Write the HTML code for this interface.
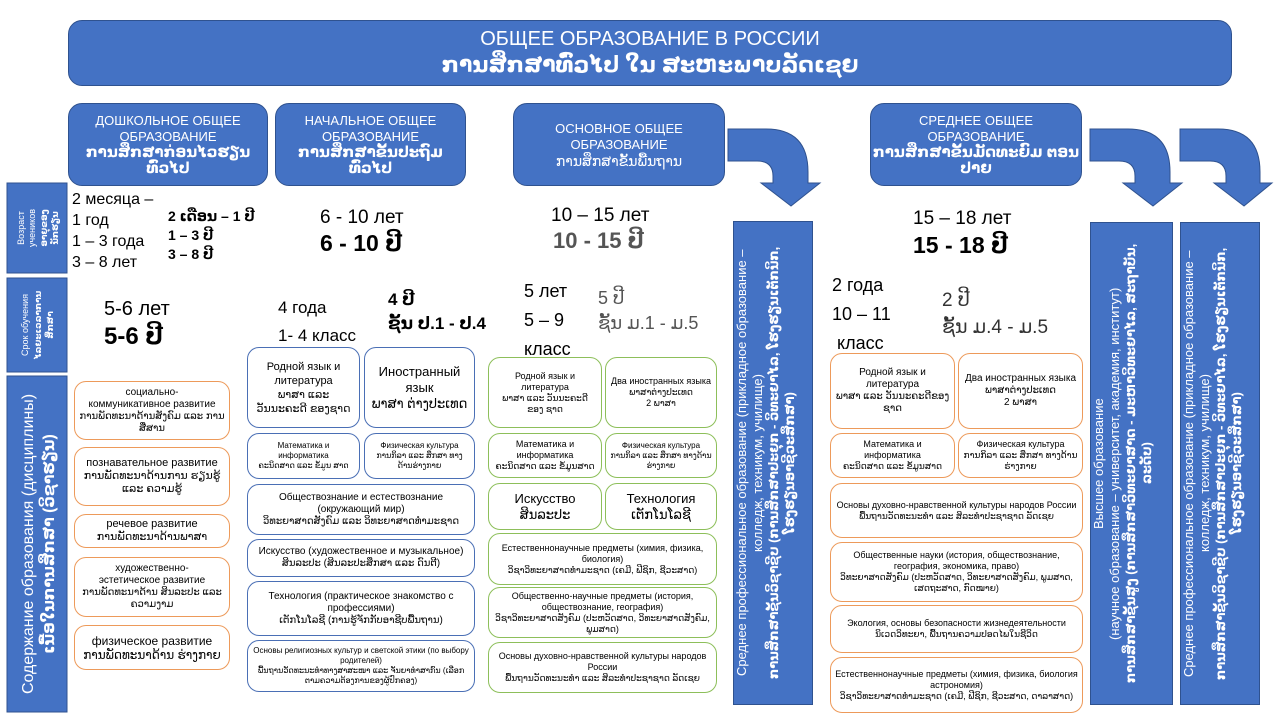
<!DOCTYPE html>
<html><head><meta charset="utf-8"><style>
*{margin:0;padding:0;box-sizing:border-box}
body{width:1280px;height:720px;background:#fff;position:relative;overflow:hidden;font-family:"Liberation Sans","DejaVu Sans",sans-serif;color:#000}
.a{position:absolute}
.blue{background:#4472C4;border:1.5px solid #2F528F;color:#fff}
.hd{border-radius:14px;display:flex;flex-direction:column;align-items:center;justify-content:center;text-align:center;font-size:13px;line-height:16px}
.hd b{font-size:15px}
.bx{position:absolute;border-radius:12px;background:#fff;display:flex;flex-direction:column;align-items:center;justify-content:center;text-align:center;font-size:10px;line-height:12px;padding:2px 4px}
.o{border:1px solid #ED9A5A}
.b{border:1px solid #4A6FB5}
.g{border:1px solid #8DBF5A}
.t{position:absolute;white-space:nowrap}
.vb{position:absolute;background:#4472C4;border:1px solid #2F528F;color:#fff;display:flex;align-items:center;justify-content:center;text-align:center}
.vb div{writing-mode:vertical-rl;transform:rotate(180deg);font-size:13px;line-height:16px;width:100%;padding:6px 0}
</style></head><body>

<div class="a blue hd" style="left:68px;top:20px;width:1164px;height:66px;border-radius:14px">
<div style="font-size:20px;line-height:24px">ОБЩЕЕ ОБРАЗОВАНИЕ В РОССИИ</div>
<div style="font-size:22px;line-height:28px;font-weight:bold">ການສຶກສາທົ່ວໄປ ໃນ ສະຫະພາບລັດເຊຍ</div></div>

<div class="a blue hd" style="left:68px;top:103px;width:200px;height:83px">ДОШКОЛЬНОЕ ОБЩЕЕ<br>ОБРАЗОВАНИЕ<b>ການສຶກສາກ່ອນໄວຮຽນ ທົ່ວໄປ</b></div>
<div class="a blue hd" style="left:275px;top:103px;width:191px;height:83px">НАЧАЛЬНОЕ ОБЩЕЕ<br>ОБРАЗОВАНИЕ<b>ການສຶກສາຂັ້ນປະຖົມ ທົ່ວໄປ</b></div>
<div class="a blue hd" style="left:513px;top:103px;width:212px;height:83px">ОСНОВНОЕ ОБЩЕЕ<br>ОБРАЗОВАНИЕ<span style="font-size:14px">ການສຶກສາຂັ້ນພື້ນຖານ</span></div>
<div class="a blue hd" style="left:870px;top:103px;width:212px;height:83px">СРЕДНЕЕ ОБЩЕЕ<br>ОБРАЗОВАНИЕ<b>ການສຶກສາຂັ້ນມັດທະຍົມ ຕອນປາຍ</b></div>

<svg class="a" style="left:0;top:0" width="1280" height="720">
<g fill="#4472C4" stroke="#2F528F" stroke-width="1">
<path d="M728,129 L766,129 Q808,129 808,172 L808,183 L820,183 L791,206 L761,183 L773,183 L773,176 Q773,161 757,161 L728,161 Z"/>
<path d="M1090,129 L1128,129 Q1170,129 1170,172 L1170,183 L1182,183 L1153,206 L1123,183 L1135,183 L1135,176 Q1135,161 1119,161 L1090,161 Z"/>
<path d="M1180,129 L1218,129 Q1260,129 1260,172 L1260,183 L1272,183 L1244,206 L1214,183 L1226,183 L1226,176 Q1226,161 1210,161 L1180,161 Z"/>
<rect x="7" y="183" width="60" height="90"/>
<rect x="7" y="278" width="60" height="94"/>
<rect x="7" y="376" width="60" height="336"/>
</g>
<g fill="#fff" text-anchor="middle" font-family="Liberation Sans, DejaVu Sans, sans-serif">
<g transform="translate(37,228) rotate(-90)" font-size="9">
<text y="-13">Возраст</text><text y="-2">учеников</text>
<text y="10" font-weight="bold">ອາຍຸຂອງ</text><text y="21" font-weight="bold">ນັກຮຽນ</text></g>
<g transform="translate(37,325) rotate(-90)" font-size="9">
<text y="-9">Срок обучения</text>
<text y="4" font-weight="bold">ໄລຍະເວລາການ</text><text y="16" font-weight="bold">ສຶກສາ</text></g>
<g transform="translate(37,544) rotate(-90)">
<text y="-4" font-size="16">Содержание образования (дисциплины)</text>
<text y="17" font-size="16" font-weight="bold">ເນື້ອໃນການສຶກສາ (ວິຊາຮຽນ)</text></g>
</g>
</svg>

<div class="t" style="left:72px;top:189px;font-size:16px;line-height:21px">2 месяца –<br>1 год<br>1 – 3 года<br>3 – 8 лет</div>
<div class="t" style="left:168px;top:207px;font-size:14px;line-height:19px;font-weight:bold">2 ເດືອນ – 1 ປີ<br>1 – 3 ປີ<br>3 – 8 ປີ</div>
<div class="t" style="left:104px;top:298px;font-size:20px">5-6 лет</div>
<div class="t" style="left:104px;top:322px;font-size:24px;font-weight:bold">5-6 ປີ</div>

<div class="t" style="left:320px;top:207px;font-size:19px">6 - 10 лет</div>
<div class="t" style="left:320px;top:230px;font-size:23px;font-weight:bold">6 - 10 ປີ</div>
<div class="t" style="left:278px;top:294px;font-size:17px;line-height:28px">4 года<br>1- 4 класс</div>
<div class="t" style="left:388px;top:288px;font-size:17px;line-height:24px;font-weight:bold">4 ປີ<br>ຊັ້ນ ປ.1 - ປ.4</div>

<div class="t" style="left:551px;top:205px;font-size:19px">10 – 15 лет</div>
<div class="t" style="left:553px;top:228px;font-size:22px;font-weight:bold;color:#555">10 - 15 ປີ</div>
<div class="t" style="left:524px;top:277px;font-size:18px;line-height:29px">5 лет<br>5 – 9<br>класс</div>
<div class="t" style="left:598px;top:286px;font-size:18px;line-height:25px;color:#555">5 ປີ<br>ຊັ້ນ ມ.1 - ມ.5</div>

<div class="t" style="left:913px;top:208px;font-size:19px">15 – 18 лет</div>
<div class="t" style="left:913px;top:232px;font-size:23px;font-weight:bold">15 - 18 ປີ</div>
<div class="t" style="left:832px;top:271px;font-size:18px;line-height:29px">2 года<br>10 – 11<br>&nbsp;класс</div>
<div class="t" style="left:942px;top:287px;font-size:19px;line-height:27px;color:#333">2 ປີ<br>ຊັ້ນ ມ.4 - ມ.5</div>

<div class="bx o" style="left:74px;top:381px;width:156px;height:59px">социально-<br>коммуникативное развитие<br>ການພັດທະນາດ້ານສັງຄົມ ແລະ ການສື່ສານ</div>
<div class="bx o" style="left:74px;top:447px;width:156px;height:59px;font-size:11px;line-height:13px">познавательное развитие<br>ການພັດທະນາດ້ານການ ຮຽນຮູ້ ແລະ ຄວາມຮູ້</div>
<div class="bx o" style="left:74px;top:514px;width:156px;height:34px;font-size:11px;line-height:13px">речевое развитие<br>ການພັດທະນາດ້ານພາສາ</div>
<div class="bx o" style="left:74px;top:557px;width:156px;height:60px">художественно-<br>эстетическое развитие<br>ການພັດທະນາດ້ານ ສິນລະປະ ແລະ ຄວາມງາມ</div>
<div class="bx o" style="left:74px;top:625px;width:156px;height:45px;font-size:12px;line-height:14px">физическое развитие<br>ການພັດທະນາດ້ານ ຮ່າງກາຍ</div>

<div class="bx b" style="left:247px;top:347px;width:113px;height:81px;font-size:11px;line-height:14px">Родной язык и литература<br>ພາສາ ແລະ ວັນນະຄະດີ ຂອງຊາດ</div>
<div class="bx b" style="left:364px;top:347px;width:111px;height:81px;font-size:13px;line-height:16px">Иностранный язык<br>ພາສາ ຕ່າງປະເທດ</div>
<div class="bx b" style="left:247px;top:433px;width:113px;height:46px;font-size:8px;line-height:10px">Математика и информатика<br>ຄະນິດສາດ ແລະ ຂໍ້ມູນ ສາດ</div>
<div class="bx b" style="left:364px;top:433px;width:111px;height:46px;font-size:8px;line-height:10px">Физическая культура<br>ການກິລາ ແລະ ສຶກສາ ທາງດ້ານຮ່າງກາຍ</div>
<div class="bx b" style="left:247px;top:484px;width:228px;height:51px">Обществознание и естествознание (окружающий мир)<br>ວິທະຍາສາດສັງຄົມ ແລະ ວິທະຍາສາດທຳມະຊາດ</div>
<div class="bx b" style="left:247px;top:539px;width:228px;height:38px">Искусство (художественное и музыкальное)<br>ສິນລະປະ (ສິນລະປະສຶກສາ ແລະ ດົນຕີ)</div>
<div class="bx b" style="left:247px;top:581px;width:228px;height:55px">Технология (практическое знакомство с профессиями)<br>ເຕັກໂນໂລຊີ (ການຮູ້ຈັກກັບອາຊີບພື້ນຖານ)</div>
<div class="bx b" style="left:247px;top:640px;width:228px;height:52px;font-size:8px;line-height:10px">Основы религиозных культур и светской этики (по выбору родителей)<br>ພື້ນຖານວັດທະນະທຳທາງສາສະໜາ ແລະ ຈັນຍາທຳສາກົນ (ເລືອກຕາມຄວາມຕ້ອງການຂອງຜູ້ປົກຄອງ)</div>

<div class="bx g" style="left:488px;top:357px;width:114px;height:71px;font-size:9px;line-height:11px">Родной язык и литература<br>ພາສາ ແລະ ວັນນະຄະດີ ຂອງ ຊາດ</div>
<div class="bx g" style="left:605px;top:357px;width:112px;height:71px;font-size:9px;line-height:11px">Два иностранных языка<br>ພາສາຕ່າງປະເທດ<br>2 ພາສາ</div>
<div class="bx g" style="left:488px;top:433px;width:114px;height:45px;font-size:9px;line-height:11px">Математика и информатика<br>ຄະນິດສາດ ແລະ ຂໍ້ມູນສາດ</div>
<div class="bx g" style="left:605px;top:433px;width:112px;height:45px;font-size:8px;line-height:10px">Физическая культура<br>ການກິລາ ແລະ ສຶກສາ ທາງດ້ານຮ່າງກາຍ</div>
<div class="bx g" style="left:488px;top:483px;width:114px;height:47px;font-size:13px;line-height:16px">Искусство<br>ສິນລະປະ</div>
<div class="bx g" style="left:605px;top:483px;width:112px;height:47px;font-size:13px;line-height:16px">Технология<br>ເຕັກໂນໂລຊີ</div>
<div class="bx g" style="left:488px;top:533px;width:229px;height:52px;font-size:9px;line-height:11px">Естественнонаучные предметы (химия, физика, биология)<br>ວິຊາວິທະຍາສາດທຳມະຊາດ (ເຄມີ, ຟີຊິກ, ຊີວະສາດ)</div>
<div class="bx g" style="left:488px;top:587px;width:229px;height:51px;font-size:9px;line-height:11px">Общественно-научные предметы (история, обществознание, география)<br>ວິຊາວິທະຍາສາດສັງຄົມ (ປະຫວັດສາດ, ວິທະຍາສາດສັງຄົມ, ພູມສາດ)</div>
<div class="bx g" style="left:488px;top:642px;width:229px;height:51px;font-size:9px;line-height:11px">Основы духовно-нравственной культуры народов России<br>ພື້ນຖານວັດທະນະທຳ ແລະ ສິລະທຳປະຊາຊາດ ລັດເຊຍ</div>

<div class="bx o" style="left:830px;top:353px;width:125px;height:76px;font-size:10px;line-height:12px">Родной язык и литература<br>ພາສາ ແລະ ວັນນະຄະດີຂອງ ຊາດ</div>
<div class="bx o" style="left:958px;top:353px;width:125px;height:76px;font-size:10px;line-height:12px">Два иностранных языка<br>ພາສາຕ່າງປະເທດ<br>2 ພາສາ</div>
<div class="bx o" style="left:830px;top:433px;width:125px;height:45px;font-size:9px;line-height:11px">Математика и информатика<br>ຄະນິດສາດ ແລະ ຂໍ້ມູນສາດ</div>
<div class="bx o" style="left:958px;top:433px;width:125px;height:45px;font-size:9px;line-height:11px">Физическая культура<br>ການກິລາ ແລະ ສຶກສາ ທາງດ້ານຮ່າງກາຍ</div>
<div class="bx o" style="left:830px;top:483px;width:253px;height:55px;font-size:9px;line-height:11px">Основы духовно-нравственной культуры народов России<br>ພື້ນຖານວັດທະນະທຳ ແລະ ສິລະທຳປະຊາຊາດ ລັດເຊຍ</div>
<div class="bx o" style="left:830px;top:542px;width:253px;height:60px;font-size:9px;line-height:11px">Общественные науки (история, обществознание, география, экономика, право)<br>ວິທະຍາສາດສັງຄົມ (ປະຫວັດສາດ, ວິທະຍາສາດສັງຄົມ, ພູມສາດ, ເສດຖະສາດ, ກົດໝາຍ)</div>
<div class="bx o" style="left:830px;top:605px;width:253px;height:48px;font-size:9px;line-height:11px">Экология, основы безопасности жизнедеятельности<br>ນິເວດວິທະຍາ, ພື້ນຖານຄວາມປອດໄພໃນຊີວິດ</div>
<div class="bx o" style="left:830px;top:657px;width:253px;height:56px;font-size:9px;line-height:11px">Естественнонаучные предметы (химия, физика, биология астрономия)<br>ວິຊາວິທະຍາສາດທຳມະຊາດ (ເຄມີ, ຟີຊິກ, ຊີວະສາດ, ດາລາສາດ)</div>

<div class="vb" style="left:733px;top:221px;width:80px;height:484px"><div>Среднее профессиональное образование (прикладное образование – колледж, техникум, училище)<br><b>ການສຶກສາຊັ້ນວິຊາຊີບ (ການສຶກສາປະຍຸກ - ວິທະຍາໄລ, ໂຮງຮຽນເຕັກນິກ, ໂຮງຮຽນອາຊີວະສຶກສາ)</b></div></div>
<div class="vb" style="left:1090px;top:222px;width:83px;height:483px"><div>Высшее образование<br>(научное образование – университет, академия, институт)<br><b>ການສຶກສາຊັ້ນສູງ (ການສຶກສາວິທະຍາສາດ - ມະຫາວິທະຍາໄລ, ສະຖາບັນ, ລະດັບ)</b></div></div>
<div class="vb" style="left:1180px;top:222px;width:80px;height:483px"><div>Среднее профессиональное образование (прикладное образование – колледж, техникум, училище)<br><b>ການສຶກສາຊັ້ນວິຊາຊີບ (ການສຶກສາປະຍຸກ - ວິທະຍາໄລ, ໂຮງຮຽນເຕັກນິກ, ໂຮງຮຽນອາຊີວະສຶກສາ)</b></div></div>

</body></html>
